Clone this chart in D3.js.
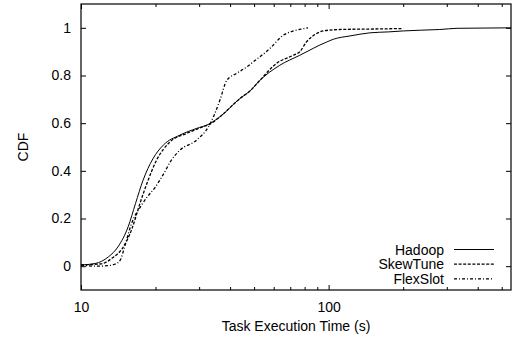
<!DOCTYPE html>
<html><head><meta charset="utf-8">
<script src="https://cdn.jsdelivr.net/npm/d3@7"></script>
<style>
html,body{margin:0;padding:0;background:#fff;}
text{font-family:"Liberation Sans",Arial,sans-serif;font-size:14px;fill:#000;}
</style></head>
<body>
<svg id="chart" width="516" height="339"></svg>
<script>
const seriesNames = ["Hadoop", "SkewTune", "FlexSlot"];
const hadoopX = [10, 11.4, 12.9, 14.1, 15.5, 16.6, 17.8, 19.5, 21.5, 25.1, 29.3, 32.7, 36.4, 43.9, 48.1, 52.8, 63.5, 76.5, 86.7, 92.2, 98, 104.4, 122, 146.7, 175, 200, 235, 281, 330, 420, 545];
const hadoopY = [0.005, 0.011, 0.039, 0.081, 0.165, 0.263, 0.36, 0.45, 0.508, 0.55, 0.578, 0.595, 0.627, 0.704, 0.735, 0.78, 0.843, 0.885, 0.914, 0.928, 0.94, 0.952, 0.966, 0.979, 0.983, 0.987, 0.99, 0.993, 0.998, 0.999, 1.0];
const skewX = [10, 12.1, 13.4, 14.7, 16.1, 17.2, 18.5, 20.2, 22.9, 26.7, 31.1, 33, 36.4, 43.9, 48.1, 52.8, 61.6, 72, 76.5, 81.4, 89.4, 95, 111, 150, 200];
const skewY = [0.005, 0.01, 0.035, 0.075, 0.16, 0.255, 0.35, 0.445, 0.522, 0.557, 0.585, 0.595, 0.627, 0.704, 0.735, 0.78, 0.851, 0.885, 0.9, 0.941, 0.976, 0.987, 0.993, 0.995, 0.997];
const flexX = [10, 11.5, 12.8, 13.7, 14.4, 15.0, 16.0, 17.4, 18.5, 19.9, 21.5, 23, 25.1, 29.3, 32.7, 34.7, 36.4, 38.8, 42.5, 46.7, 49.6, 58, 65.6, 72, 78, 82.6];
const flexY = [0.005, 0.0, 0.002, 0.008, 0.025, 0.081, 0.179, 0.25, 0.29, 0.33, 0.385, 0.44, 0.487, 0.529, 0.585, 0.64, 0.697, 0.78, 0.809, 0.836, 0.857, 0.914, 0.969, 0.987, 0.995, 1.0];
const xTicks = [10, 100];
const xMinor = [20, 30, 40, 50, 60, 70, 80, 90, 200, 300, 400, 500];
const yTicks = [0, 0.2, 0.4, 0.6, 0.8, 1];
const yTickLabels = ["0", "0.2", "0.4", "0.6", "0.8", "1"];
const dashes = [null, "3,1.6", "3,2,1,2"];

const L = 81, R = 511, T = 4, B = 290;
const svg = d3.select("#chart");
const x = d3.scaleLog().domain([10, 545]).range([L, R]);
const y = d3.scaleLinear().domain([-0.1, 1.1]).range([B, T]);

const series = [
  {name: seriesNames[0], xs: hadoopX, ys: hadoopY},
  {name: seriesNames[1], xs: skewX, ys: skewY},
  {name: seriesNames[2], xs: flexX, ys: flexY}
];

const gAx = svg.append("g");
gAx.append("g").attr("transform", `translate(0,${B})`)
  .call(d3.axisBottom(x).tickValues(xTicks).tickSize(-5).tickFormat(d3.format("d")).tickPadding(12))
  .call(g => g.select(".domain").remove());
gAx.append("g").attr("transform", `translate(0,${B})`)
  .call(d3.axisBottom(x).tickValues(xMinor).tickSize(-3).tickFormat(""))
  .call(g => g.select(".domain").remove());
gAx.append("g").attr("transform", `translate(0,${T})`)
  .call(d3.axisTop(x).tickValues(xTicks).tickSize(-5).tickFormat(""))
  .call(g => g.select(".domain").remove());
gAx.append("g").attr("transform", `translate(0,${T})`)
  .call(d3.axisTop(x).tickValues(xMinor).tickSize(-3).tickFormat(""))
  .call(g => g.select(".domain").remove());
gAx.append("g").attr("transform", `translate(${L},0)`)
  .call(d3.axisLeft(y).tickValues(yTicks).tickSize(-5).tickFormat((d, i) => yTickLabels[i]).tickPadding(10))
  .call(g => g.select(".domain").remove());
gAx.append("g").attr("transform", `translate(${R},0)`)
  .call(d3.axisRight(y).tickValues(yTicks).tickSize(-5).tickFormat(""))
  .call(g => g.select(".domain").remove());
gAx.selectAll("text").style("font-family", '"Liberation Sans",Arial,sans-serif').style("font-size", "14px").attr("fill", "#000");
gAx.selectAll("line").attr("stroke", "#000");

svg.append("rect").attr("x", L).attr("y", T).attr("width", R - L).attr("height", B - T)
  .attr("fill", "none").attr("stroke", "#000").attr("stroke-width", 1.2);

const line = d3.line().curve(d3.curveMonotoneX).x(d => x(d[0])).y(d => y(d[1]));
series.forEach((s, i) => {
  const pts = s.xs.map((v, j) => [v, s.ys[j]]);
  svg.append("path").attr("d", line(pts)).attr("fill", "none").attr("stroke", "#000")
    .attr("stroke-width", i === 0 ? 1 : 1.3).attr("stroke-dasharray", dashes[i]);
});

const lg = svg.append("g");
series.forEach((s, i) => {
  const yy = 249.5 + i * 14.7;
  lg.append("text").attr("x", 444).attr("y", yy + 5).attr("text-anchor", "end").text(s.name);
  lg.append("line").attr("x1", 454).attr("x2", 494).attr("y1", yy).attr("y2", yy)
    .attr("stroke", "#000").attr("stroke-width", i === 0 ? 1 : 1.3).attr("stroke-dasharray", dashes[i]);
});

svg.append("text").attr("x", (L + R) / 2).attr("y", 331).attr("text-anchor", "middle").text("Task Execution Time (s)");
svg.append("text").attr("transform", `translate(28,${(T + B) / 2}) rotate(-90)`).attr("text-anchor", "middle").text("CDF");
</script>
</body></html>
